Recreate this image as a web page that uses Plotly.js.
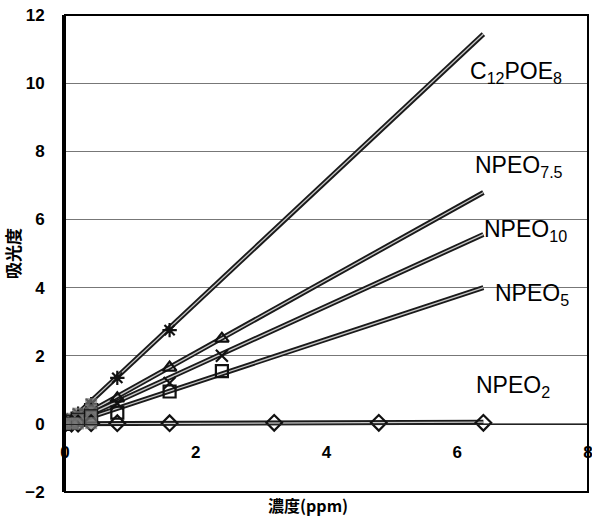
<!DOCTYPE html>
<html>
<head>
<meta charset="utf-8">
<script src="https://cdn.plot.ly/plotly-3.0.1.min.js"></script>
<style>html,body{margin:0;padding:0;background:#fff;}#chart{width:592px;height:518px;}</style>
</head>
<body>
<div id="chart"></div>
<script>
// ---- data ----
const seriesNames = ["C<sub>12</sub>POE<sub>8</sub>", "NPEO<sub>7.5</sub>", "NPEO<sub>10</sub>", "NPEO<sub>5</sub>", "NPEO<sub>2</sub>"];
const xC12 = [0, 0.1, 0.2, 0.4, 0.8, 1.6];
const yC12 = [0, 0.15, 0.3, 0.58, 1.35, 2.75];
const xNP75 = [0, 0.1, 0.2, 0.4, 0.8, 1.6, 2.4];
const yNP75 = [0, 0.1, 0.2, 0.4, 0.75, 1.65, 2.5];
const xNP10 = [0, 0.1, 0.2, 0.4, 0.8, 1.6, 2.4];
const yNP10 = [0, 0.08, 0.17, 0.33, 0.6, 1.2, 2.0];
const xNP5 = [0, 0.1, 0.2, 0.4, 0.8, 1.6, 2.4];
const yNP5 = [0, 0.06, 0.12, 0.22, 0.33, 0.95, 1.55];
const xNP2 = [0, 0.1, 0.2, 0.4, 0.8, 1.6, 3.2, 4.8, 6.4];
const yNP2 = [0, 0.01, 0.01, 0.02, 0.02, 0.02, 0.03, 0.03, 0.03];
// fitted trend lines (start, end)
const fitX = [0, 6.4];
const fitC12 = [-0.05, 11.44];
const fitNP75 = [-0.05, 6.79];
const fitNP10 = [-0.05, 5.56];
const fitNP5 = [-0.05, 4.0];
const fitNP2 = [0.0, 0.05];
// axis ticks
const xTicks = [0, 2, 4, 6, 8];
const yTicks = [-2, 0, 2, 4, 6, 8, 10, 12];
// label positions for series names (data coords)
const labelX = [6.16, 6.24, 6.38, 6.55, 6.26];
const labelY = [10.3, 7.55, 5.68, 3.8, 1.1];

const sets = [
  {x: xC12, y: yC12, fy: fitC12, sym: 'asterisk-open'},
  {x: xNP75, y: yNP75, fy: fitNP75, sym: 'triangle-up-open'},
  {x: xNP10, y: yNP10, fy: fitNP10, sym: 'x-thin-open'},
  {x: xNP5, y: yNP5, fy: fitNP5, sym: 'square-open'},
  {x: xNP2, y: yNP2, fy: fitNP2, sym: 'diamond-open'}
];

const traces = [];
sets.forEach((s, i) => {
  traces.push({x: fitX, y: s.fy, mode: 'lines', line: {color: '#1a1a1a', width: 5}, hoverinfo: 'skip', showlegend: false});
  traces.push({x: fitX, y: s.fy, mode: 'lines', line: {color: '#c8c8c8', width: 1.3}, hoverinfo: 'skip', showlegend: false});
});
sets.forEach((s, i) => {
  traces.push({x: s.x, y: s.y, mode: 'markers', name: seriesNames[i], showlegend: false,
    marker: {symbol: s.sym, size: 12, color: '#111', line: {color: '#111', width: 2.2}}});
  traces.push({x: s.x.slice(0, 4), y: s.y.slice(0, 4), mode: 'markers', showlegend: false, hoverinfo: 'skip',
    marker: {symbol: 'square', size: 12, color: 'rgba(120,120,120,0.7)'}});
});

const annotations = seriesNames.map((n, i) => ({
  x: labelX[i], y: labelY[i], xref: 'x', yref: 'y', text: n, showarrow: false,
  xanchor: 'left', yanchor: 'middle',
  font: {family: 'Liberation Sans, Arial, sans-serif', size: 23, color: '#000'}
}));
annotations.push({x: 0.465, y: -0.028, xref: 'paper', yref: 'paper', yanchor: 'middle', xanchor: 'center',
  text: '濃度(ppm)', showarrow: false,
  font: {family: 'Noto Sans CJK JP, sans-serif', size: 16, weight: 'bold', color: '#000'}});

const tf = {family: 'Liberation Sans, Arial, sans-serif', size: 17, weight: 'bold', color: '#000'};
const layout = {
  width: 592, height: 518,
  margin: {l: 65, r: 4, t: 15, b: 26},
  paper_bgcolor: '#fff', plot_bgcolor: '#fff',
  showlegend: false,
  xaxis: {
    range: [0, 8], tickvals: xTicks, ticktext: xTicks.map(String),
    anchor: 'free', position: 2 / 14,
    showgrid: false, zeroline: false,
    showline: true, linecolor: '#222', linewidth: 1.5,
    ticks: '', ticklabelstandoff: 12, ticklabeloverflow: 'allow',
    tickfont: tf
  },
  yaxis: {
    range: [-2, 12], tickvals: yTicks, ticktext: yTicks.map(v => v < 0 ? '−' + Math.abs(v) : String(v)),
    showgrid: true, gridcolor: '#777', gridwidth: 1,
    zeroline: false,
    showline: true, linecolor: '#000', linewidth: 3,
    ticks: '', ticklabelstandoff: 14,
    tickfont: tf,
    title: {text: '吸光度', standoff: 2, font: {family: 'Noto Sans CJK JP, sans-serif', size: 17, weight: 'bold', color: '#000'}}
  },
  shapes: [{type: 'rect', xref: 'paper', yref: 'paper', x0: 0, x1: 1, y0: 0, y1: 1,
    line: {color: '#000', width: 2}, layer: 'above'}],
  annotations: annotations
};

Plotly.newPlot('chart', traces, layout, {displayModeBar: false, staticPlot: true});
</script>
</body>
</html>
